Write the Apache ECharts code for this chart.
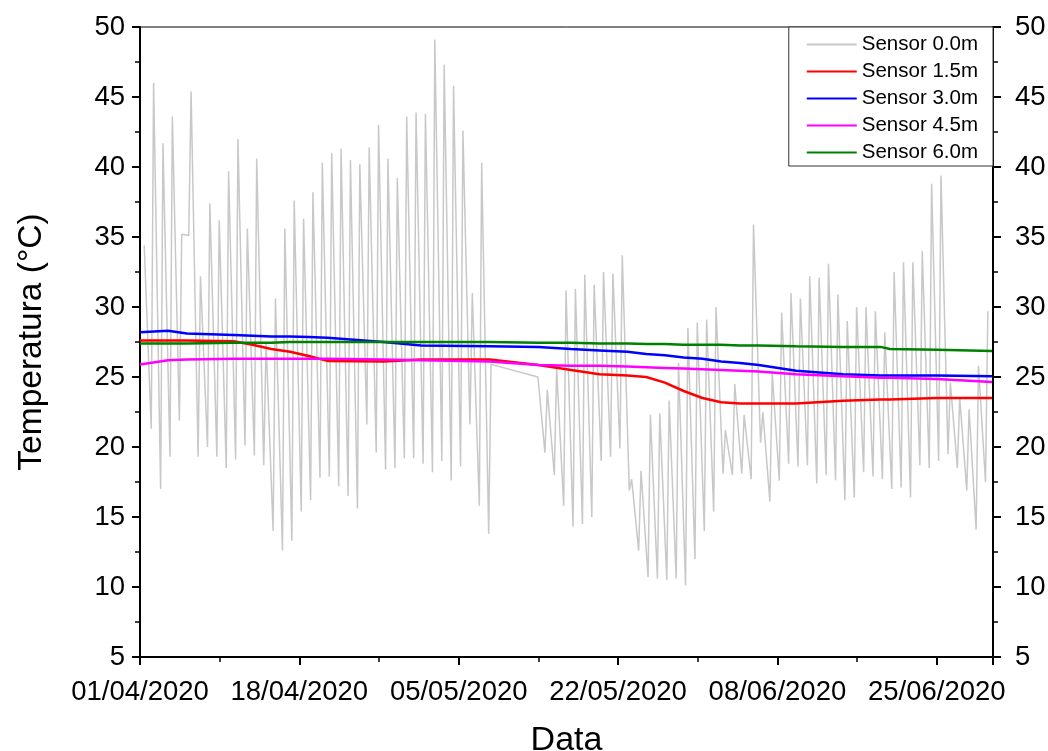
<!DOCTYPE html>
<html>
<head>
<meta charset="utf-8">
<title>Temperatura dos sensores</title>
<script src="https://cdn.jsdelivr.net/npm/echarts@6.0.0/dist/echarts.min.js"></script>
<style>
  html, body { margin: 0; padding: 0; background: #fff; }
  #chart { width: 1048px; height: 751px; }
</style>
</head>
<body>
<div id="chart"></div>
<script>
// eixo x em dias contados a partir de 01/04/2020
const dateLabels = ['01/04/2020', '18/04/2020', '05/05/2020', '22/05/2020', '08/06/2020', '25/06/2020']
const tickStep = 17
const sensorNames = ['Sensor 0.0m', 'Sensor 1.5m', 'Sensor 3.0m', 'Sensor 4.5m', 'Sensor 6.0m']

// Sensor 0.0m: minimo e maximo de cada dia (null = sem leitura)
const gMin = [
  null, 21.3, 17.0, 19.3, 21.9, 35.1, 19.3, 20.0, 19.3, 18.5,
  19.1, 20.1, 19.4, 18.7, 14.0, 12.6, 13.3, 15.4, 16.2, 17.8,
  17.9, 17.2, 16.5, 15.6, 21.6, 19.6, 18.4, 18.5, 19.2, 19.2,
  18.8, 18.2, 19.0, 17.6, 18.6, 21.6, 15.8, 13.8, null, null,
  null, null, null, 19.6, 18.0, 15.8, 14.3, 14.5, 15.0, 19.0,
  19.3, 19.9, 16.9, 12.6, 10.7, 10.6, 10.5, 10.6, 10.1, 12.0,
  14.0, 15.4, 18.1, 18.0, 18.1, 17.7, 20.3, 16.1, 17.6, 18.8,
  18.6, 18.7, 17.4, 18.0, 17.6, 16.2, 16.4, 18.2, 17.9, 17.7,
  17.0, 17.1, 16.4, 18.7, 18.5, 19.0, 19.5, 18.5, 16.9, 14.1,
  17.5
]
const gMax = [
  34.4, 46.0, 41.7, 43.6, 35.2, 45.4, 32.2, 37.4, 36.2, 39.7,
  42.0, 35.6, 40.6, 27.5, 30.6, 35.6, 37.6, 36.3, 38.2, 40.3,
  41.0, 41.3, 40.5, 40.2, 41.4, 43.0, 40.6, 39.2, 43.6, 43.9,
  43.8, 49.1, 47.3, 45.8, 42.6, 31.0, 40.3, 25.9, null, null,
  null, null, 25.0, 24.1, 25.6, 31.2, 31.3, 32.3, 31.6, 32.5,
  32.4, 33.7, 17.7, 18.3, 22.3, 22.4, 23.3, 26.0, 28.5, 28.9,
  29.1, 30.0, 21.2, 24.5, 22.3, 35.9, 22.5, 25.3, 29.6, 31.0,
  30.6, 32.2, 32.1, 33.1, 30.9, 29.0, 30.0, 30.0, 29.7, 28.2,
  32.5, 33.2, 33.2, 34.0, 38.8, 39.4, 24.6, 23.5, 22.7, 25.8,
  29.7
]

// sensores enterrados: leituras em alguns dias
const keyDays = [0, 3, 5, 10, 12, 14, 16, 18, 20, 26, 30, 37.3, 42.5, 46, 49, 52, 54, 56, 58, 60, 62, 64, 66, 70, 75, 79, 80, 85, 90.9]
const s15 = [27.6, 27.6, 27.6, 27.55, 27.3, 27.0, 26.8, 26.5, 26.15, 26.1, 26.25, 26.25, 25.85, 25.5, 25.2, 25.1, 25.0, 24.6, 24.0, 23.5, 23.2, 23.1, 23.1, 23.1, 23.3, 23.4, 23.4, 23.5, 23.5]
const s30 = [28.2, 28.3, 28.1, 28.0, 27.95, 27.9, 27.9, 27.85, 27.8, 27.5, 27.25, 27.2, 27.15, 27.0, 26.9, 26.8, 26.65, 26.55, 26.4, 26.3, 26.1, 26.0, 25.85, 25.45, 25.2, 25.1, 25.1, 25.1, 25.05]
const s45 = [25.9, 26.2, 26.25, 26.3, 26.3, 26.3, 26.3, 26.3, 26.3, 26.25, 26.2, 26.1, 25.85, 25.8, 25.8, 25.75, 25.7, 25.65, 25.6, 25.55, 25.5, 25.45, 25.4, 25.2, 25.05, 24.95, 24.95, 24.85, 24.65]
const s60 = [27.4, 27.4, 27.4, 27.45, 27.45, 27.45, 27.5, 27.5, 27.5, 27.5, 27.5, 27.5, 27.45, 27.45, 27.4, 27.4, 27.35, 27.35, 27.3, 27.3, 27.3, 27.25, 27.25, 27.2, 27.15, 27.15, 27.0, 26.95, 26.85]

const colors = ['#c8c8c8', '#ff0000', '#0000ff', '#ff00ff', '#008000']
const font = '"Liberation Sans", Arial, sans-serif'

// monta a serie do sensor de superficie (min de madrugada, max a tarde)
const surface = []
for (let d = 0; d < gMax.length; d++) {
  if (gMin[d] != null) surface.push([d + 0.2, gMin[d]])
  if (gMax[d] != null) surface.push([d + 0.45, gMax[d]])
}
const pairs = vals => keyDays.map((d, i) => [d, vals[i]])
const seriesData = [surface, pairs(s15), pairs(s30), pairs(s45), pairs(s60)]

const axisCommon = {
  axisLine: { show: true, onZero: false, lineStyle: { color: '#000', width: 2 } },
  axisTick: { show: true, inside: false, length: 8, lineStyle: { color: '#000', width: 2 } },
  minorTick: { show: true, splitNumber: 2, length: 5, lineStyle: { color: '#000', width: 1.5 } },
  splitLine: { show: false }
}

const myChart = echarts.init(document.getElementById('chart'))
const option = {
  animation: false,
  backgroundColor: '#fff',
  textStyle: { fontFamily: font },
  grid: {
    left: 140, right: 55, top: 27, bottom: 94,
    outerBoundsMode: 'none', // nao deixar o v6 encolher a area do grafico
    show: true, borderColor: '#000', borderWidth: 1
  },
  legend: {
    orient: 'vertical',
    right: 55,
    top: 27,
    data: sensorNames,
    icon: 'rect',
    itemWidth: 50,
    itemHeight: 2,
    itemGap: 6,
    padding: [7, 15, 3, 18],
    borderColor: '#333',
    borderWidth: 1,
    backgroundColor: '#fff',
    selectedMode: false,
    textStyle: { fontSize: 20.5, color: '#000', fontFamily: font, lineHeight: 20 }
  },
  xAxis: Object.assign({
    type: 'value',
    min: 0,
    max: 91,
    interval: tickStep,
    name: 'Data',
    nameLocation: 'middle',
    nameGap: 67,
    nameTextStyle: { fontSize: 34, color: '#000', fontFamily: font },
    axisLabel: {
      fontSize: 27.5,
      color: '#000',
      margin: 21,
      fontFamily: font,
      showMaxLabel: false,
      formatter: v => dateLabels[Math.round(v / tickStep)] || ''
    }
  }, axisCommon),
  yAxis: [
    Object.assign({
      type: 'value',
      min: 5,
      max: 50,
      interval: 5,
      name: 'Temperatura (°C)',
      nameLocation: 'middle',
      nameGap: 91,
      nameRotate: 90,
      nameTextStyle: { fontSize: 33.5, color: '#000', fontFamily: font },
      axisLabel: { fontSize: 27.5, color: '#000', margin: 15, fontFamily: font }
    }, axisCommon),
    Object.assign({
      type: 'value',
      position: 'right',
      min: 5,
      max: 50,
      interval: 5,
      axisLabel: { fontSize: 27.5, color: '#000', margin: 22, fontFamily: font }
    }, axisCommon)
  ],
  series: sensorNames.map((name, i) => ({
    name: name,
    type: 'line',
    data: seriesData[i],
    color: colors[i],
    showSymbol: false,
    symbol: 'none',
    silent: true,
    lineStyle: { color: colors[i], width: i === 0 ? 1.5 : 2.5 }
  }))
}
myChart.setOption(option)
window.addEventListener('resize', function () {
  myChart.resize()
})
</script>
</body>
</html>
